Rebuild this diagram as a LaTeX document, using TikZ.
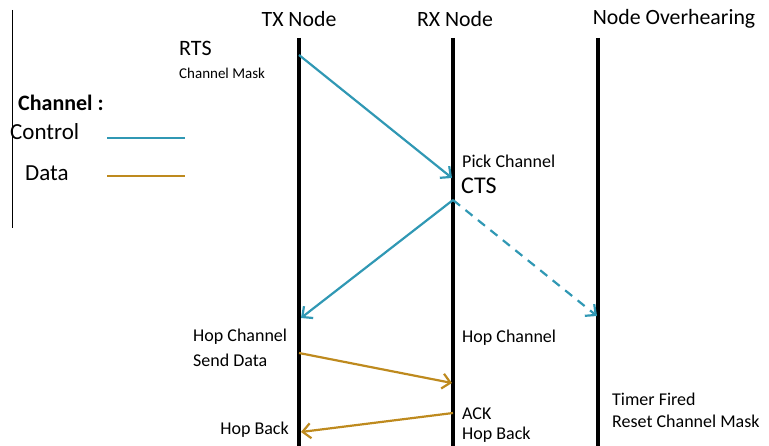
\documentclass[tikz,border=0pt]{standalone}
\usepackage{fontspec}
\setmainfont{Carlito}
\usetikzlibrary{arrows.meta}
\definecolor{ctrl}{RGB}{48,152,180}
\definecolor{dat}{RGB}{190,138,30}
\begin{document}
\begin{tikzpicture}[x=1pt,y=-1pt,
  lifeline/.style={line width=3.6pt,black},
  ttl/.style={font=\fontsize{21.8}{24}\selectfont,inner sep=0pt},
  big/.style={font=\fontsize{22}{24}\selectfont,inner sep=0pt,anchor=west},
  leg/.style={font=\fontsize{23}{25}\selectfont,inner sep=0pt,anchor=west},
  small/.style={font=\fontsize{18}{20}\selectfont,inner sep=0pt,anchor=west},
  smallr/.style={font=\fontsize{18}{20}\selectfont,inner sep=0pt,anchor=east},
  tiny/.style={font=\fontsize{15}{17}\selectfont,inner sep=0pt,anchor=west},
  msg/.style={line width=2.2pt,-{Straight Barb[length=8pt,width=15pt,line width=2.2pt]}},
  ctrlmsg/.style={msg,ctrl},
  datmsg/.style={msg,dat}]
\useasboundingbox (0,0) rectangle (769,446);
% lifelines
\coordinate (txT) at (299,38); \coordinate (txB) at (299,446);
\coordinate (rxT) at (453,38); \coordinate (rxB) at (453,446);
\coordinate (ovT) at (598,38); \coordinate (ovB) at (598,446);
\draw[lifeline] (txT) -- (txB);
\draw[lifeline] (rxT) -- (rxB);
\draw[lifeline] (ovT) -- (ovB);
\node[ttl] (txl) at (299,19) {TX Node};
\node[ttl] (rxl) at (455,19) {RX Node};
\node[ttl] (ovl) at (674,19) {Node Overhearing};
% legend
\coordinate (lgT) at (12,10); \coordinate (lgB) at (12,228);
\draw[line width=0.9pt] (lgT) -- (lgB);
\node[leg,font=\bfseries\fontsize{22}{24}\selectfont] (chl) at (18,103) {Channel :};
\node[leg] (ctl) at (10,132) {Control};
\node[leg] (dtl) at (25,173) {Data};
\coordinate (c1) at (107,138); \coordinate (c2) at (185,138);
\coordinate (d1) at (107,176); \coordinate (d2) at (185,176);
\draw[ctrl,line width=2.2pt] (c1) -- (c2);
\draw[dat,line width=2.2pt] (d1) -- (d2);
% labels
\node[big] (rts) at (179,48) {RTS};
\node[tiny] (cmask) at (179,73) {Channel Mask};
\node[small] (pick) at (462,161) {Pick Channel};
\node[big,font=\fontsize{24}{26}\selectfont] (cts) at (461,186) {CTS};
\node[small] (hopl) at (193,337) {Hop Channel};
\node[small] (send) at (193,360) {Send Data};
\node[small] (hopr) at (462,338) {Hop Channel};
\node[small] (ack) at (462,414) {ACK};
\node[small] (hbr) at (462,435) {Hop Back};
\node[smallr] (hbl) at (289,430) {Hop Back};
\node[small] (timer) at (612,399) {Timer Fired};
\node[small] (reset) at (612,421) {Reset Channel Mask};
% message points
\coordinate (m1s) at (299,55);  \coordinate (m1e) at (452,178);
\coordinate (m2s) at (453,200); \coordinate (m2e) at (301,318);
\coordinate (m3e) at (597,316);
\coordinate (m4s) at (299,353); \coordinate (m4e) at (452,383);
\coordinate (m5s) at (453,413); \coordinate (m5e) at (301,432);
\draw[ctrlmsg] (m1s) -- (m1e);
\draw[ctrlmsg] (m2s) -- (m2e);
\draw[ctrlmsg,dash pattern=on 9pt off 7pt] (m2s) -- (m3e);
\draw[datmsg] (m4s) -- (m4e);
\draw[datmsg] (m5s) -- (m5e);
\end{tikzpicture}
\end{document}
